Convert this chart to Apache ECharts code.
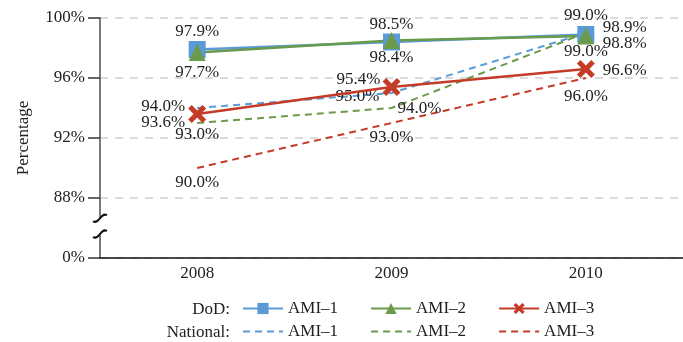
<!DOCTYPE html>
<html><head><meta charset="utf-8">
<script src="https://cdn.jsdelivr.net/npm/echarts@6/dist/echarts.min.js"></script>
<style>html,body{margin:0;padding:0;background:#fff}#c{width:683px;height:342px}</style>
</head><body><div id="c"></div>
<script>
// ---- data ----
const categories = ['2008', '2009', '2010'];
const dodAmi1 = [97.9, 98.4, 98.9];
const dodAmi2 = [97.7, 98.5, 98.8];
const dodAmi3 = [93.6, 95.4, 96.6];
const natAmi1 = [94.0, 95.0, 99.0];
const natAmi2 = [93.0, 94.0, 99.0];
const natAmi3 = [90.0, 93.0, 96.0];
// y axis is broken: the bottom tick (84) stands for 0%
const yTickLabels = {84: '0%', 88: '88%', 92: '92%', 96: '96%', 100: '100%'};
const legendGroups = ['DoD:', 'National:'];

// ---- label layout (align, dx, dy) ----
const lab = {
  dodAmi1: [['center', 0, -18], ['center', 0, 16], ['left', 17, -7]],
  dodAmi2: [['center', 0, 20], ['center', 0, -16], ['left', 17, 8]],
  dodAmi3: [['right', -12, 9], ['right', -11, -7], ['left', 17, 2]],
  natAmi1: [['right', -12, -1], ['right', -12, 4], ['center', 0, -17]],
  natAmi2: [['center', 0, 12], ['left', 6, 1], ['center', 0, 19]],
  natAmi3: [['center', 0, 15], ['center', 0, 15], ['center', 0, 19]]
};
const FONT = 'Liberation Serif';
const BLUE = '#5b9bd5', GREEN = '#6a9a4b', RED = '#c43b27';
const X_PATH = 'path://M0,4 L4,0 L10,6 L16,0 L20,4 L14,10 L20,16 L16,20 L10,14 L4,20 L0,16 L6,10 Z';

function mk(values, layout) {
  return values.map((v, i) => ({
    value: v,
    label: {
      show: true, position: 'inside', align: layout[i][0], verticalAlign: 'middle',
      offset: [layout[i][1], layout[i][2]],
      formatter: v.toFixed(1) + '%',
      fontFamily: FONT, fontSize: 17, color: '#222'
    }
  }));
}
function dod(name, values, layout, color, symbol, size) {
  return {
    name, type: 'line', data: mk(values, layout), symbol, symbolSize: size,
    lineStyle: {color, width: 2.5}, itemStyle: {color}, z: 3, animation: false
  };
}
function nat(name, values, layout, color) {
  return {
    name, type: 'line', data: mk(values, layout), symbol: 'circle', symbolSize: 0,
    lineStyle: {color, width: 2, type: [7, 5]}, itemStyle: {color}, z: 2, animation: false
  };
}

const chart = echarts.init(document.getElementById('c'));
const legendText = {fontFamily: FONT, fontSize: 17, color: '#222'};
chart.setOption({
  animation: false,
  grid: {left: 100, right: 0, top: 18, bottom: 84},
  xAxis: {
    type: 'category', data: categories, boundaryGap: true,
    axisLine: {lineStyle: {color: '#111', width: 1.5}},
    axisTick: {show: false},
    axisLabel: {fontFamily: FONT, fontSize: 17, color: '#222', margin: 7}
  },
  yAxis: {
    type: 'value', min: 84, max: 100, interval: 4,
    name: 'Percentage', nameLocation: 'middle', nameGap: 68,
    nameTextStyle: {fontFamily: FONT, fontSize: 17, color: '#222'},
    axisLine: {show: true, lineStyle: {color: '#7a7a7a', width: 2}},
    axisTick: {show: true, length: 12, lineStyle: {color: '#333', width: 1.5}},
    axisLabel: {fontFamily: FONT, fontSize: 17, color: '#222', margin: 15,
      formatter: v => yTickLabels[v] || ''},
    splitLine: {lineStyle: {color: '#d0d0d0', width: 1.5, type: [8, 7]}}
  },
  legend: [
    {left: 237, top: 295, itemWidth: 40, itemHeight: 14, itemGap: 32,
      data: ['DoD AMI–1', 'DoD AMI–2', 'DoD AMI–3'],
      formatter: n => n.split(' ')[1], textStyle: legendText},
    {left: 237, top: 318, itemWidth: 40, itemHeight: 14, itemGap: 32,
      data: ['National AMI–1', 'National AMI–2', 'National AMI–3'],
      itemStyle: {opacity: 0},
      formatter: n => n.split(' ')[1], textStyle: legendText}
  ],
  series: [
    nat('National AMI–1', natAmi1, lab.natAmi1, BLUE),
    nat('National AMI–2', natAmi2, lab.natAmi2, GREEN),
    nat('National AMI–3', natAmi3, lab.natAmi3, RED),
    dod('DoD AMI–1', dodAmi1, lab.dodAmi1, BLUE, 'rect', 17),
    dod('DoD AMI–2', dodAmi2, lab.dodAmi2, GREEN, 'triangle', 17),
    dod('DoD AMI–3', dodAmi3, lab.dodAmi3, RED, X_PATH, 18)
  ]
});

// axis-break squiggles and legend group labels
const gx = 100;
const y1 = chart.convertToPixel({yAxisIndex: 0}, 86.65);
const y2 = chart.convertToPixel({yAxisIndex: 0}, 85.6);
function squiggle(y) {
  return {type: 'bezierCurve', x: gx, y: y,
    shape: {x1: -7, y1: 3, cpx1: -1, cpy1: 7, cpx2: 1, cpy2: -7, x2: 7, y2: -3},
    style: {stroke: '#111', lineWidth: 2, fill: null}, z: 51};
}
chart.setOption({
  graphic: [
    {type: 'rect', shape: {x: gx - 3, y: y1 + 1, width: 6, height: y2 - y1 - 2}, style: {fill: '#fff'}, z: 50},
    squiggle(y1), squiggle(y2),
    {type: 'text', x: 230, y: 310, style: {text: legendGroups[0], align: 'right', verticalAlign: 'middle', font: '17px "' + FONT + '"', fill: '#222'}},
    {type: 'text', x: 230, y: 333, style: {text: legendGroups[1], align: 'right', verticalAlign: 'middle', font: '17px "' + FONT + '"', fill: '#222'}}
  ]
});
</script></body></html>
